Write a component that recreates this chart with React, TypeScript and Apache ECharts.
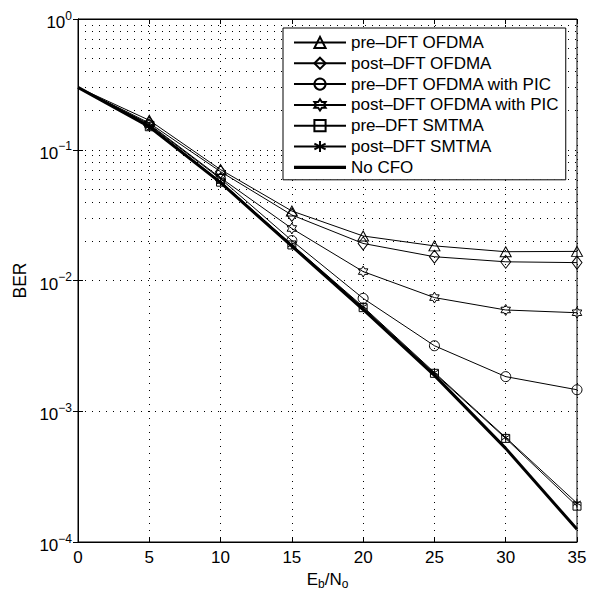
import React, { useEffect, useRef } from 'react';
import * as echarts from 'echarts';

const snr = [0, 5, 10, 15, 20, 25, 30, 35];
const preOfdma = [0.3, 0.168, 0.0705, 0.034, 0.0219, 0.0184, 0.0166, 0.0167];
const postOfdma = [0.3, 0.16, 0.068, 0.0317, 0.0192, 0.0152, 0.0139, 0.0137];
const preOfdmaPic = [0.3, 0.155, 0.06, 0.0202, 0.0073, 0.00317, 0.00184, 0.00146];
const postOfdmaPic = [0.3, 0.157, 0.061, 0.025, 0.0117, 0.0074, 0.00595, 0.00567];
const preSmtma = [0.3, 0.15, 0.0565, 0.0187, 0.0062, 0.00195, 0.00062, 0.000188];
const postSmtma = [0.3, 0.152, 0.057, 0.0188, 0.0063, 0.00198, 0.00063, 0.000198];
const noCfo = [0.3, 0.15, 0.056, 0.0183, 0.006, 0.00188, 0.00052, 0.000125];

const seriesNames = [
  'pre–DFT OFDMA',
  'post–DFT OFDMA',
  'pre–DFT OFDMA with PIC',
  'post–DFT OFDMA with PIC',
  'pre–DFT SMTMA',
  'post–DFT SMTMA',
  'No CFO',
];

const decades = [1e-4, 1e-3, 1e-2, 1e-1];
const minorMultipliers = [2, 3, 4, 5, 6, 7, 8, 9];

const HEXAGRAM =
  'path://M0,-100L28.87,-50L86.6,-50L57.7,0L86.6,50L28.87,50L0,100L-28.87,50L-86.6,50L-57.7,0L-86.6,-50L-28.87,-50Z';
const ASTERISK = 'path://M0,-100L0,100M-86.6,-50L86.6,50M-86.6,50L86.6,-50';
const THICK_LINE_ICON = 'path://M0,0L52,0L52,3.2L0,3.2Z';

const FONT = 'Liberation Sans';

export default function App() {
  const ref = useRef<HTMLDivElement>(null);
  useEffect(() => {
    const chart = echarts.init(ref.current!, null, { renderer: 'svg' });

    const minorValues: number[] = [];
    decades.forEach((d) => minorMultipliers.forEach((m) => minorValues.push(d * m)));

    const dotted = { type: [1, 6] as number[], color: '#000', width: 1 };

    const mk = (
      name: string,
      values: number[],
      symbol: string,
      symbolSize: number | number[],
      extra: any = {}
    ) => ({
      name,
      type: 'line',
      symbol,
      symbolSize,
      symbolKeepAspect: true,
      showAllSymbol: true,
      lineStyle: { color: '#000', width: 1 },
      itemStyle: { color: 'rgba(255,255,255,0)', borderColor: '#000', borderWidth: 1 },
      emphasis: { disabled: true },
      data: snr.map((x, i) =>
        i === 0 ? { value: [x, values[i]], symbol: 'none' } : { value: [x, values[i]] }
      ),
      z: 3,
      ...extra,
    });

    const supLabel = (v: number) => {
      const e = Math.round(Math.log10(v));
      return '{b|10}{s|' + (e < 0 ? '−' + -e : String(e)) + '}';
    };

    chart.setOption({
      animation: false,
      backgroundColor: '#fff',
      grid: {
        left: 78,
        top: 19,
        right: 18,
        bottom: 55,
        show: true,
        borderColor: '#000',
        borderWidth: 1,
        backgroundColor: 'transparent',
      },
      legend: {
        orient: 'vertical',
        left: 283,
        top: 28,
        itemWidth: 52,
        itemHeight: 14,
        itemGap: 3.8,
        padding: [6, 6, 4, 10],
        borderColor: '#000',
        borderWidth: 1,
        backgroundColor: '#fff',
        borderRadius: 0,
        selectedMode: false,
        data: seriesNames.map((n, i) =>
          i === 6 ? { name: n, icon: THICK_LINE_ICON } : { name: n }
        ),
        textStyle: { fontFamily: FONT, fontSize: 17, color: '#000' },
        z: 10,
      },
      xAxis: [
        {
          type: 'value',
          min: 0,
          max: 35,
          interval: 5,
          name: '{b|E}{s|b}{b|/N}{s|o}',
          nameLocation: 'middle',
          nameGap: 27,
          nameTextStyle: {
            color: '#000',
            fontFamily: FONT,
            rich: {
              b: { fontSize: 17, fontFamily: FONT, color: '#000' },
              s: { fontSize: 12, fontFamily: FONT, color: '#000', padding: [9, 0, 0, 0] },
            },
          },
          axisLine: { show: true, lineStyle: { color: '#000', width: 1 } },
          axisTick: { show: true, inside: true, length: 5, lineStyle: { color: '#000' } },
          axisLabel: { color: '#000', fontFamily: FONT, fontSize: 17, margin: 7 },
          splitLine: { show: true, lineStyle: dotted },
        },
        {
          type: 'value',
          position: 'top',
          min: 0,
          max: 35,
          interval: 5,
          axisLine: { show: true, lineStyle: { color: '#000', width: 1 } },
          axisTick: { show: true, inside: true, length: 5, lineStyle: { color: '#000' } },
          axisLabel: { show: false },
          splitLine: { show: false },
        },
      ],
      yAxis: [
        {
          type: 'log',
          min: 1e-4,
          max: 1,
          logBase: 10,
          name: 'BER',
          nameLocation: 'middle',
          nameGap: 47,
          nameTextStyle: { color: '#000', fontFamily: FONT, fontSize: 17.5 },
          axisLine: { show: true, lineStyle: { color: '#000', width: 1 } },
          axisTick: { show: true, inside: true, length: 5, lineStyle: { color: '#000' } },
          axisLabel: {
            color: '#000',
            margin: 6,
            formatter: supLabel,
            rich: {
              b: { fontSize: 17, fontFamily: FONT, color: '#000', padding: [7, 0, 0, 0] },
              s: { fontSize: 12, fontFamily: FONT, color: '#000', padding: [0, 0, 7, 0] },
            },
          },
          splitLine: { show: true, lineStyle: dotted },
        },
        {
          type: 'log',
          position: 'right',
          min: 1e-4,
          max: 1,
          logBase: 10,
          axisLine: { show: true, lineStyle: { color: '#000', width: 1 } },
          axisTick: { show: true, inside: true, length: 5, lineStyle: { color: '#000' } },
          axisLabel: { show: false },
          splitLine: { show: false },
        },
      ],
      series: [
        mk(seriesNames[0], preOfdma, 'triangle', [11, 10]),
        mk(seriesNames[1], postOfdma, 'diamond', [10, 13]),
        mk(seriesNames[2], preOfdmaPic, 'circle', 10),
        mk(seriesNames[3], postOfdmaPic, HEXAGRAM, 11),
        mk(seriesNames[4], preSmtma, 'rect', 8),
        mk(seriesNames[5], postSmtma, ASTERISK, 9),
        mk(seriesNames[6], noCfo, 'none', 1, {
          lineStyle: { color: '#000', width: 3 },
          itemStyle: { color: '#000', borderColor: '#000', borderWidth: 0 },
          z: 4,
          markLine: {
            silent: true,
            z: 1,
            symbol: ['none', 'none'],
            label: { show: false },
            lineStyle: dotted,
            emphasis: { disabled: true },
            data: minorValues.map((v) => ({ yAxis: v })),
          },
        }),
      ],
    });

    return () => chart.dispose();
  }, []);
  return (
    <div
      ref={ref}
      style={{ position: 'fixed', left: 0, top: 0, width: 595, height: 597 }}
    />
  );
}
